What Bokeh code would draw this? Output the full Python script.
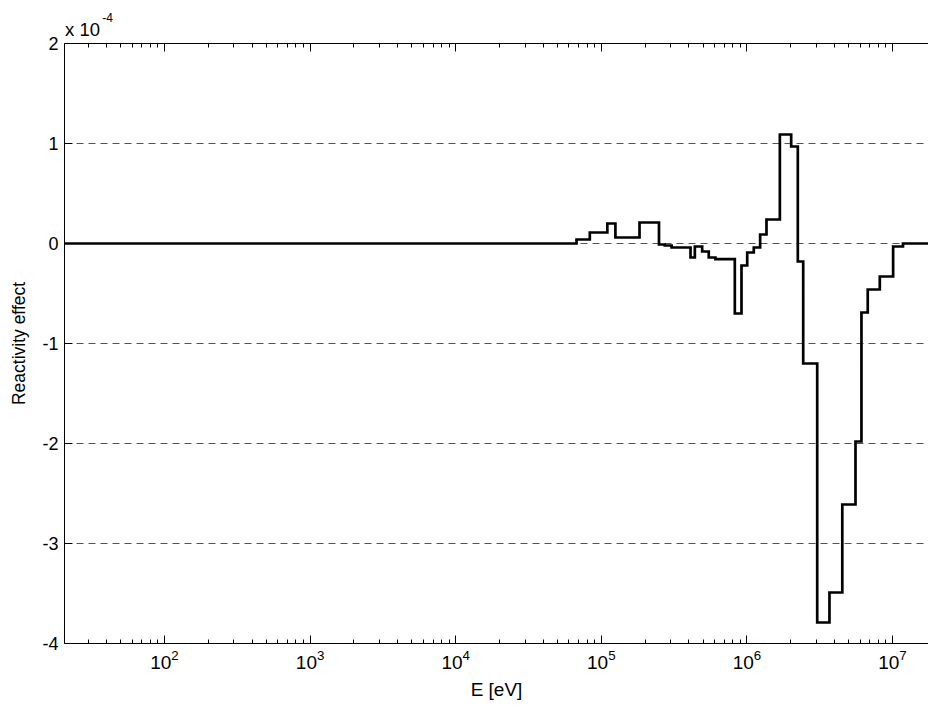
import math
from bokeh.plotting import figure
from bokeh.models import (Range1d, FixedTicker, LogTickFormatter, LogAxis,
                          CustomJSTickFormatter)
from bokeh.embed import file_html
from bokeh.resources import INLINE

# Group boundaries (eV) and reactivity effect per group (units of 1e-4)
edges = [20, 6.76e4, 8.34e4, 1.10e5, 1.25e5, 1.83e5, 2.49e5, 2.73e5, 3.04e5,
         4.10e5, 4.39e5, 4.93e5, 5.47e5, 6.08e5, 8.26e5, 9.18e5, 1.005e6,
         1.115e6, 1.233e6, 1.363e6, 1.684e6, 2.014e6, 2.237e6, 2.436e6,
         3.04e6, 3.69e6, 4.52e6, 5.57e6, 6.12e6, 6.76e6, 8.18e6, 1.01e7,
         1.18e7, 2.0e7]
values = [0.0, 0.04, 0.11, 0.20, 0.06, 0.21, -0.01, -0.02, -0.04,
          -0.14, -0.03, -0.08, -0.14, -0.157, -0.70, -0.22, -0.09,
          -0.04, 0.09, 0.24, 1.09, 0.97, -0.18, -1.20,
          -3.79, -3.49, -2.61, -1.98, -0.69, -0.46, -0.33, -0.03,
          0.0]
x_decades = [1e2, 1e3, 1e4, 1e5, 1e6, 1e7]
y_ticks = [-4, -3, -2, -1, 0, 1, 2]
y_grid = [-3, -2, -1, 0, 1]
x_start, x_end = 20.57, 1.767e7
mult_base = "x 10"
mult_exp = "-4"

FONT = "Liberation Sans"
W, H = 928, 709
BL, BR, BT, BB = 64, 0, 43, 66
FW = W - BL - BR


def frame_px_to_x(px):
    a, b = math.log10(x_start), math.log10(x_end)
    return 10 ** (a + px / FW * (b - a))


p = figure(width=W, height=H, x_axis_type="log",
           x_range=Range1d(x_start, x_end), y_range=Range1d(-4, 2),
           output_backend="svg", toolbar_location=None,
           min_border_left=BL, min_border_right=BR,
           min_border_top=BT, min_border_bottom=BB)

xs = list(edges)
ys = list(values) + [values[-1]]
p.step(xs, ys, mode="after", line_color="black", line_width=2.7,
       line_join="miter")

minor = [m * d for d in [10, 100, 1e3, 1e4, 1e5, 1e6, 1e7] for m in range(2, 10)]

p.outline_line_color = None
p.background_fill_color = "white"
p.border_fill_color = "white"

xa = p.xaxis[0]
xa.ticker = FixedTicker(ticks=x_decades, minor_ticks=minor)
xa.formatter = LogTickFormatter()
xa.axis_label = "E [eV]"
xa.major_tick_in = 8
xa.major_tick_out = 0
xa.minor_tick_in = 4
xa.minor_tick_out = 0
xa.axis_line_color = "black"
xa.major_tick_line_color = "black"
xa.minor_tick_line_color = "black"
xa.major_label_text_font = FONT
xa.major_label_text_font_size = "19px"
xa.major_label_text_color = "black"
xa.major_label_standoff = 6
xa.axis_label_text_font = FONT
xa.axis_label_text_font_size = "19px"
xa.axis_label_text_font_style = "normal"
xa.axis_label_text_color = "black"
xa.axis_label_standoff = 7

# top box edge with inward ticks
top = LogAxis(ticker=FixedTicker(ticks=x_decades, minor_ticks=minor),
              formatter=CustomJSTickFormatter(code="return ''"),
              major_tick_in=8, major_tick_out=0, minor_tick_in=4,
              minor_tick_out=0, axis_line_color="black",
              major_tick_line_color="black", minor_tick_line_color="black",
              major_label_text_font_size="1px", major_label_standoff=0)
p.add_layout(top, "above")

# axis-scale multiplier "x 10^-4" drawn as labels of two bare top axes
mult = LogAxis(ticker=FixedTicker(ticks=[frame_px_to_x(18)], minor_ticks=[]),
               formatter=CustomJSTickFormatter(args=dict(t=mult_base),
                                               code="return t"),
               major_tick_in=0, major_tick_out=0, minor_tick_in=0,
               minor_tick_out=0, axis_line_color=None,
               major_tick_line_color=None, minor_tick_line_color=None,
               major_label_text_font=FONT, major_label_text_font_size="18.5px",
               major_label_text_color="black", major_label_standoff=4)
p.add_layout(mult, "above")
expo = LogAxis(ticker=FixedTicker(ticks=[frame_px_to_x(43)], minor_ticks=[]),
               formatter=CustomJSTickFormatter(args=dict(t=mult_exp),
                                               code="return t"),
               major_tick_in=0, major_tick_out=0, minor_tick_in=0,
               minor_tick_out=0, axis_line_color=None,
               major_tick_line_color=None, minor_tick_line_color=None,
               major_label_text_font=FONT, major_label_text_font_size="12px",
               major_label_text_color="black", major_label_standoff=-6)
p.add_layout(expo, "above")

ya = p.yaxis[0]
ya.ticker = FixedTicker(ticks=y_ticks)
ya.formatter = CustomJSTickFormatter(code="return tick.toString()")
ya.axis_label = "Reactivity effect"
ya.major_tick_in = 8
ya.major_tick_out = 0
ya.minor_tick_line_color = None
ya.axis_line_color = "black"
ya.major_tick_line_color = "black"
ya.major_label_text_font = FONT
ya.major_label_text_font_size = "18px"
ya.major_label_text_color = "black"
ya.major_label_standoff = 6
ya.axis_label_text_font = FONT
ya.axis_label_text_font_size = "17.5px"
ya.axis_label_text_font_style = "normal"
ya.axis_label_text_color = "black"
ya.axis_label_standoff = 10

p.xgrid.visible = False
p.ygrid.ticker = FixedTicker(ticks=y_grid)
p.ygrid.grid_line_color = "#555555"
p.ygrid.grid_line_dash = "7 5"
p.ygrid.grid_line_width = 1

open("out.html", "w").write(file_html(p, INLINE))
